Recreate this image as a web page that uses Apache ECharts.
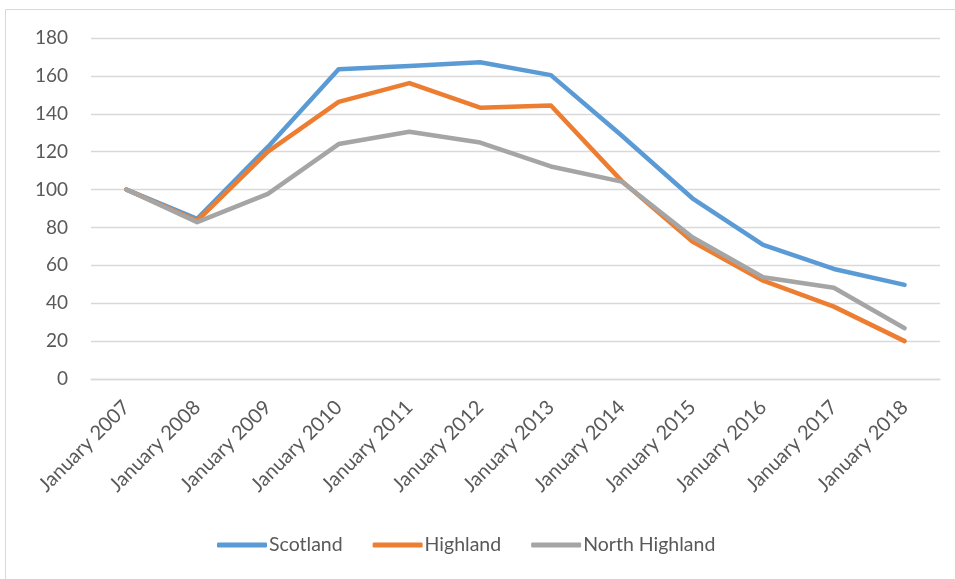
<!DOCTYPE html>
<html>
<head>
<meta charset="utf-8">
<script src="https://cdn.jsdelivr.net/npm/echarts@6/dist/echarts.min.js"></script>
<style>
  html, body { margin: 0; padding: 0; background: #fff; }
  #chart { width: 955px; height: 579px; }
</style>
</head>
<body>
<div id="chart"></div>
<script>
// Index values (January 2007 = 100)
const categories = [
  'January 2007', 'January 2008', 'January 2009', 'January 2010',
  'January 2011', 'January 2012', 'January 2013', 'January 2014',
  'January 2015', 'January 2016', 'January 2017', 'January 2018'
];
const scotland      = [100, 84.5, 122.5, 163.5, 165.2, 167.2, 160.4, 128.5, 95.4, 70.8, 58.1, 49.7];
const highland      = [100, 83.5, 120.0, 146.3, 156.2, 143.2, 144.4, 104.6, 72.5, 51.9, 38.2, 20.0];
const northHighland = [100, 82.8, 97.7, 124.0, 130.5, 124.8, 112.2, 104.2, 74.8, 53.7, 48.2, 26.8];
const yTicks = { min: 0, max: 180, interval: 20 };

const FONT = 'Lato';
const TEXT = '#595959';

const chart = echarts.init(document.getElementById('chart'), null, { renderer: 'canvas' });

function lineSeries(name, data, color) {
  return {
    name: name,
    type: 'line',
    data: data,
    symbol: 'none',
    smooth: false,
    lineStyle: { color: color, width: 4.5, cap: 'round', join: 'round' },
    itemStyle: { color: color },
    emphasis: { disabled: true }
  };
}

chart.setOption({
  animation: false,
  backgroundColor: '#ffffff',
  graphic: [{
    type: 'rect',
    shape: { x: 5.5, y: 9.5, width: 1000, height: 700 },
    style: { fill: 'none', stroke: '#D9D9D9', lineWidth: 1 },
    silent: true,
    z: -1
  }],
  grid: { left: 91, right: 15, top: 38, bottom: 200, containLabel: false },
  legend: {
    bottom: 19,
    left: 212,
    itemWidth: 50,
    itemHeight: 5,
    itemGap: 30,
    icon: 'roundRect',
    textStyle: { fontFamily: FONT, fontSize: 19.5, color: TEXT, padding: [0, 0, 0, -3] },
    data: ['Scotland', 'Highland', 'North Highland']
  },
  xAxis: {
    type: 'category',
    data: categories,
    boundaryGap: true,
    axisLine: { show: true, lineStyle: { color: '#D9D9D9', width: 1.3 } },
    axisTick: { show: false },
    axisLabel: {
      rotate: 45,
      interval: 0,
      margin: 25,
      fontFamily: FONT,
      fontSize: 20,
      color: TEXT
    }
  },
  yAxis: {
    type: 'value',
    min: yTicks.min,
    max: yTicks.max,
    interval: yTicks.interval,
    axisLine: { show: false },
    axisTick: { show: false },
    splitLine: { lineStyle: { color: '#D9D9D9', width: 1.3 } },
    axisLabel: { margin: 23, fontFamily: FONT, fontSize: 19, color: TEXT }
  },
  series: [
    lineSeries('Scotland', scotland, '#5B9BD5'),
    lineSeries('Highland', highland, '#ED7D31'),
    lineSeries('North Highland', northHighland, '#A5A5A5')
  ]
});
</script>
</body>
</html>
